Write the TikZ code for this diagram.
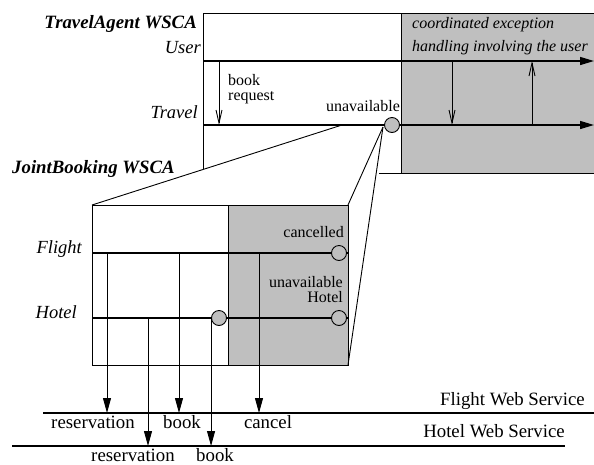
\documentclass[tikz,border=0pt]{standalone}
\usepackage{fontspec}
\setmainfont{Liberation Serif}
\usetikzlibrary{arrows.meta,backgrounds}
\tikzstyle{box}=[line width=0.9pt]
\tikzstyle{thread}=[line width=1.4pt,-{Triangle[length=14pt,width=8pt]}]
\tikzstyle{msg}=[line width=0.9pt,-{Straight Barb[length=13pt,width=6pt]}]
\tikzstyle{call}=[line width=0.9pt,-{Triangle[length=15pt,width=8pt]}]
\tikzstyle{ws}=[line width=2.8pt]
\tikzstyle{exc}=[circle,draw,line width=0.9pt,fill=gray!50,minimum size=15pt,inner sep=0pt]
\tikzstyle{txt}=[inner sep=0pt,font=\fontsize{18.8}{21}\selectfont]
\tikzstyle{note}=[inner sep=0pt,font=\fontsize{16}{15}\selectfont]
\tikzstyle{inote}=[inner sep=0pt,font=\fontsize{16}{18}\selectfont\itshape]
\tikzstyle{role}=[inner sep=0pt,font=\fontsize{18.5}{21}\selectfont\itshape]
\tikzstyle{wsca}=[inner sep=0pt,font=\fontsize{18.8}{21}\selectfont\bfseries\itshape]

\begin{document}
\begin{tikzpicture}[x=1pt,y=-1pt]
\useasboundingbox (0,0) rectangle (594,464);
    % TravelAgent WSCA
    \fill[gray!50] (401,13) rectangle (594,173);
    \coordinate (ta) at (203,13);
    \coordinate (tb) at (203,169);
    \coordinate (tc) at (594,13);
    \coordinate (ga) at (401,13);
    \coordinate (gb) at (401,173);
    \coordinate (gc) at (379,173);
    \coordinate (gd) at (594,173);
    \draw[box] (tb) -- (ta) -- (tc);
    \draw[box] (ga) -- (gb);
    \draw[box] (gc) -- (gd);
    \coordinate (u0) at (203,61);
    \coordinate (u1) at (594,61);
    \coordinate (t0) at (203,125);
    \coordinate (t1) at (594,125);
    \draw[thread] (u0) -- (u1);
    \draw[thread] (t0) -- (t1);
    \node[exc] (tx) at (392,125) {};
    \coordinate (br) at (219,61);
    \draw[msg] (br) -- (br |- t0);
    \coordinate (d1) at (452,61);
    \coordinate (d2) at (532,125);
    \draw[msg] (d1) -- (d1 |- t0);
    \draw[msg] (d2) -- (d2 |- u0);
    \node[wsca,anchor=base east] (tan) at (197,28) {TravelAgent WSCA};
    \node[role,anchor=base east] (usr) at (201,53) {User};
    \node[role,anchor=base east] (trv) at (198,118) {Travel};
    \node[note,align=left,anchor=base west] (brq) at (228,100) {book\\request};
    \node[note,anchor=base] (una) at (363,111) {unavailable};
    \node[inote,anchor=base west] (cex) at (412,28) {coordinated exception};
    \node[inote,anchor=base west] (cex2) at (412,51) {handling involving the user};
    % JointBooking WSCA
    \fill[gray!50] (228,205) rectangle (348,365);
    \coordinate (ja) at (92,205);
    \coordinate (jb) at (348,365);
    \coordinate (jc) at (348,205);
    \coordinate (jg) at (228,205);
    \draw[box] (ja) rectangle (jb);
    \draw[box] (jg) -- (jg |- jb);
    \coordinate (tj) at (342,125);
    \coordinate (ap) at (383,127);
    \draw[box] (ja) -- (tj);
    \draw[box] (ap) -- (jc);
    \draw[box] (ap) -- (jb);
    \coordinate (f0) at (92,253);
    \coordinate (f1) at (348,253);
    \coordinate (h0) at (92,318);
    \coordinate (h1) at (348,318);
    \draw[line width=1.4pt] (f0) -- (f1);
    \draw[line width=1.4pt] (h0) -- (h1);
    \node[wsca,anchor=base west] (jbn) at (12,173) {JointBooking WSCA};
    \node[role,anchor=base east] (flt) at (82,253) {Flight};
    \node[role,anchor=base east] (htl) at (77,318) {Hotel};
    \node[note,anchor=base east] (cnl) at (344,237) {cancelled};
    \node[note,align=right,anchor=base east] (uh) at (343,302) {unavailable\\Hotel};
    % web services
    \coordinate (fw0) at (43,413);
    \coordinate (fw1) at (594,413);
    \coordinate (hw0) at (12,446);
    \coordinate (hw1) at (565,446);
    \draw[ws] (fw0) -- (fw1);
    \draw[ws] (hw0) -- (hw1);
    \node[txt,anchor=base east] (fws) at (585,405) {Flight Web Service};
    \node[txt,anchor=base east] (hws) at (565,437) {Hotel Web Service};
    \coordinate (c1) at (107,253);
    \coordinate (c2) at (148,318);
    \coordinate (c3) at (179,253);
    \coordinate (c5) at (259,253);
    \draw[call] (c1) -- (c1 |- fw0);
    \draw[call] (c2) -- (c2 |- hw0);
    \draw[call] (c3) -- (c3 |- fw0);
    \draw[call] (c5) -- (c5 |- fw0);
    \node[exc] (hx) at (219,318) {};
    \node[exc] (fx2) at (339,253) {};
    \node[exc] (hx2) at (339,318) {};
    \draw[call] (hx.west) -- (hx.west |- hw0);
    \node[txt,anchor=base] (r1) at (93,428) {reservation};
    \node[txt,anchor=base] (b1) at (182,428) {book};
    \node[txt,anchor=base] (cc) at (268,428) {cancel};
    \node[txt,anchor=base] (r2) at (133,461) {reservation};
    \node[txt,anchor=base] (b2) at (215,461) {book};
\end{tikzpicture}
\end{document}
